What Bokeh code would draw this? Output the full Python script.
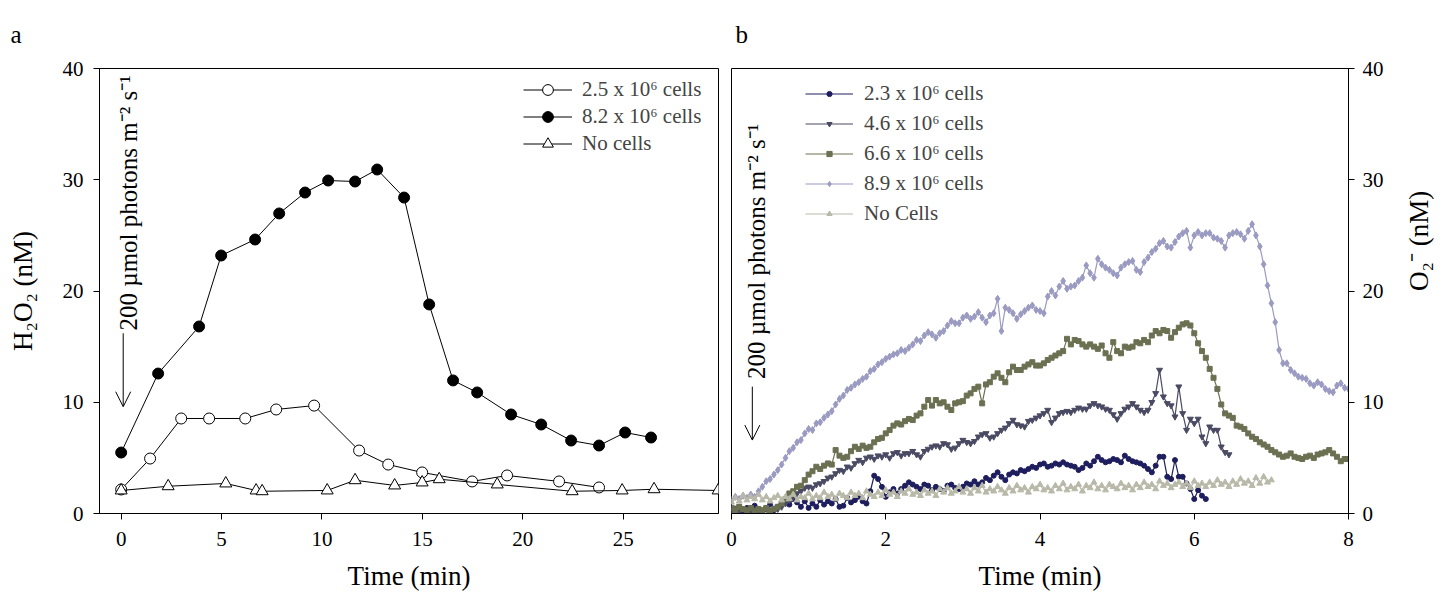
import math
from bokeh.plotting import figure
from bokeh.layouts import row
from bokeh.models import Range1d, Legend, LegendItem, Label, Arrow, OpenHead, FixedTicker
from bokeh.embed import file_html
from bokeh.resources import INLINE

FONT = "Liberation Serif"

# ---------------- Panel a data (H2O2) ----------------
a_open_t = [0, 1.44, 2.99, 4.38, 6.18, 7.72, 9.61, 11.85, 13.3, 14.99, 17.48, 19.22, 21.81, 23.8]
a_open_v = [2.16, 4.94, 8.54, 8.54, 8.54, 9.35, 9.7, 5.66, 4.4, 3.69, 2.88, 3.42, 2.88, 2.34]

a_fill_t = [0, 1.84, 3.88, 4.98, 6.67, 7.87, 9.16, 10.31, 11.65, 12.75, 14.09, 15.34, 16.53,
            17.73, 19.42, 20.92, 22.41, 23.8, 25.1, 26.39]
a_fill_v = [5.48, 12.58, 16.81, 23.19, 24.63, 26.97, 28.85, 29.93, 29.84, 30.92, 28.4, 18.79, 11.96,
            10.88, 8.9, 8.0, 6.56, 6.11, 7.28, 6.83]

a_none_t = [0, 2.34, 5.21, 6.72, 7.02, 10.26, 11.65, 13.62, 14.99, 15.84, 18.73, 22.46, 24.95, 26.54, 29.73]
a_none_v = [2.07, 2.45, 2.70, 2.07, 2.0, 2.07, 2.99, 2.52, 2.79, 3.08, 2.61, 2.0, 2.07, 2.18, 2.07]

a_labels = ["2.5 x 10\u2076 cells", "8.2 x 10\u2076 cells", "No cells"]

# ---------------- Panel b data (O2-) sampled every DT min ----------------
DT = 0.05
b_23 = [0.4, 0.3, 0.6, 0.2, 0.5, 0.3, 0.7, 0.4, 0.2, 0.5, 0.8, 0.3, 0.6, 0.9, 1.2, 0.8, 1.3, 1.0, 0.6, 1.1,
        0.5, 0.9, 0.6, 1.2, 0.8, 1.1, 0.9, 1.3, 0.6, 0.7, 1.4, 1.0, 1.2, 1.5, 1.1, 0.9, 2.0, 3.4, 3.1, 2.4,
        1.5, 1.9, 2.2, 1.8, 2.2, 2.5, 2.8, 2.6, 2.4, 2.2, 2.6, 2.5, 2.1, 2.4, 2.2, 2.0, 2.5, 2.6, 2.3, 2.2,
        2.4, 2.7, 2.6, 2.9, 2.6, 2.8, 3.2, 3.0, 3.4, 3.7, 3.3, 3.0, 3.5, 3.7, 3.6, 3.9, 3.8, 4.0, 4.2, 4.1,
        4.4, 4.5, 4.2, 4.3, 4.5, 4.4, 4.6, 4.4, 4.3, 4.2, 3.9, 4.1, 4.5, 4.3, 4.7, 5.1, 4.8, 4.6, 4.7, 4.9,
        4.8, 4.6, 5.2, 4.9, 4.7, 4.6, 4.5, 4.3, 4.0, 3.7, 4.3, 5.1, 5.1, 3.3, 3.1, 4.8, 3.3, 3.3, 2.7, 2.2,
        1.3, 2.1, 1.6, 1.3]
b_46 = [0.3, 0.5, 0.2, 0.4, 0.3, 0.2, 0.4, 0.3, 0.2, 0.4, 0.3, 0.5, 0.4, 0.6, 0.9, 1.2, 1.5, 1.8, 2.0, 2.3,
        2.4, 2.3, 2.6, 2.7, 2.9, 3.2, 3.3, 3.6, 3.9, 3.8, 4.2, 4.1, 4.5, 4.8, 4.6, 5.0, 5.1, 4.9, 5.2, 5.1,
        5.3, 5.0, 5.4, 5.5, 5.2, 5.4, 5.4, 5.6, 5.3, 5.1, 5.6, 5.8, 6.0, 6.1, 6.0, 6.3, 6.2, 5.8, 5.9, 6.3,
        6.6, 6.4, 6.3, 6.5, 6.9, 7.1, 7.2, 6.8, 6.9, 7.2, 7.5, 7.7, 8.1, 8.4, 8.0, 7.9, 7.8, 8.3, 8.4, 8.6,
        8.8, 9.0, 9.3, 8.2, 8.6, 9.0, 9.1, 9.2, 9.1, 9.3, 9.5, 9.4, 9.4, 9.7, 9.9, 9.7, 9.6, 9.4, 9.3, 8.9,
        8.5, 9.0, 9.4, 9.6, 9.9, 9.6, 9.3, 9.1, 9.3, 10.0, 10.8, 12.9, 10.5, 9.9, 9.7, 8.7, 11.4, 9.0, 7.5, 8.5,
        8.1, 8.5, 6.9, 6.3, 7.8, 7.5, 7.5, 6.0, 5.5, 5.3]
b_66 = [0.5, 0.3, 0.6, 0.4, 0.3, 0.5, 0.2, 0.4, 0.3, 0.5, 0.2, 0.4, 0.6, 0.9, 1.3, 1.8, 2.0, 2.4, 2.5, 3.0,
        3.5, 3.8, 4.2, 4.0, 4.3, 4.5, 4.4, 5.7, 5.2, 5.0, 5.1, 5.6, 6.0, 5.8, 6.1, 5.9, 6.0, 6.4, 6.7, 6.8,
        7.2, 7.5, 7.9, 8.1, 8.0, 8.3, 8.5, 8.4, 8.8, 9.0, 9.6, 10.2, 9.7, 10.2, 9.9, 10.0, 9.6, 9.3, 9.9, 10.0,
        10.1, 10.6, 10.8, 11.2, 11.4, 9.9, 11.6, 11.8, 12.3, 12.6, 12.2, 11.8, 12.7, 13.2, 12.9, 12.9, 13.2, 13.4, 13.6, 13.3,
        13.3, 13.5, 13.8, 14.0, 14.2, 14.4, 14.6, 15.7, 15.2, 15.6, 15.5, 15.2, 15.0, 15.2, 15.0, 14.8, 15.1, 14.4, 14.0, 15.4,
        14.6, 14.4, 15.0, 14.9, 15.0, 15.4, 15.3, 15.6, 15.4, 16.0, 16.4, 16.2, 16.5, 16.4, 15.8, 16.3, 16.7, 17.0, 17.1, 16.9,
        16.2, 15.3, 14.6, 14.0, 13.0, 12.2, 11.2, 9.8, 9.0, 8.8, 8.6, 7.9, 7.8, 7.6, 7.2, 6.9, 6.7, 6.4, 6.2, 6.0,
        5.7, 5.5, 5.3, 5.1, 5.2, 5.4, 5.1, 5.0, 4.9, 5.1, 5.2, 5.0, 5.3, 5.4, 5.5, 5.7, 5.4, 5.1, 4.7, 4.9,
        4.9]
b_89 = [1.2, 1.5, 1.3, 1.6, 1.4, 1.7, 1.5, 2.0, 2.4, 2.9, 3.1, 3.5, 3.9, 4.4, 5.0, 5.6, 5.9, 6.4, 6.6, 7.2,
        7.6, 7.5, 8.1, 8.2, 8.6, 8.9, 9.2, 9.8, 10.3, 10.6, 11.1, 11.3, 11.6, 11.8, 12.1, 12.3, 12.8, 13.0, 13.4, 13.6,
        13.9, 14.1, 14.3, 14.4, 14.7, 14.6, 14.9, 15.2, 15.6, 15.5, 16.0, 16.3, 16.1, 15.8, 16.2, 16.4, 16.9, 17.3, 17.1, 17.1,
        17.6, 17.8, 17.5, 17.7, 18.1, 17.6, 17.2, 17.8, 18.0, 19.3, 16.4, 18.5, 18.3, 18.0, 17.5, 17.9, 18.2, 18.5, 18.7, 18.3,
        18.2, 18.0, 19.5, 20.0, 19.6, 20.4, 20.9, 20.2, 20.4, 20.5, 20.9, 21.2, 22.3, 21.6, 21.2, 22.9, 22.4, 22.1, 21.9, 21.6,
        21.4, 22.1, 22.4, 22.6, 22.7, 21.9, 21.7, 22.6, 23.0, 23.5, 23.8, 24.3, 24.5, 24.0, 23.9, 24.4, 24.9, 25.2, 25.4, 23.9,
        25.0, 25.3, 25.0, 25.2, 25.2, 24.8, 24.7, 24.5, 23.9, 25.0, 25.2, 25.3, 25.1, 24.7, 25.4, 26.0, 25.0, 24.0, 22.4, 20.5,
        18.9, 17.2, 14.7, 13.5, 13.5, 12.9, 12.6, 12.3, 12.2, 12.1, 11.7, 11.5, 11.8, 11.6, 11.2, 11.0, 10.9, 11.5, 11.7, 11.3,
        11.2]
b_none = [1.0, 1.4, 1.1, 1.6, 1.2, 1.5, 1.3, 1.7, 1.2, 1.5, 1.1, 1.4, 1.6, 1.2, 1.5, 1.3, 1.7, 1.2, 1.5, 1.4,
          1.8, 1.3, 1.6, 1.4, 1.9, 1.5, 1.7, 1.3, 1.8, 1.6, 1.4, 1.9, 1.6, 1.8, 1.4, 2.0, 1.7, 1.5, 1.9, 1.6,
          2.1, 1.7, 1.9, 1.5, 2.0, 1.8, 2.2, 1.7, 1.9, 1.6, 2.1, 1.8, 2.0, 1.6, 2.2, 1.9, 2.3, 1.8, 2.0, 2.4,
          1.9, 2.2, 1.8, 2.3, 2.0, 2.5, 1.9, 2.2, 2.0, 2.4, 2.1, 1.8, 2.3, 2.0, 2.5, 2.1, 2.3, 1.9, 2.4, 2.2,
          2.6, 2.1, 2.3, 2.0, 2.5, 2.2, 2.7, 2.1, 2.4, 2.2, 2.6, 2.0, 2.5, 2.3, 2.8, 2.2, 2.5, 2.1, 2.6, 2.4,
          2.2, 2.7, 2.3, 2.5, 2.1, 2.6, 2.3, 2.8, 2.4, 2.6, 2.2, 2.9, 2.5, 2.7, 2.3, 2.6, 2.8, 2.4, 2.7, 2.3,
          2.9, 2.5, 2.7, 2.4, 2.8, 2.5, 3.0, 2.6, 2.8, 2.4, 2.9, 2.6, 3.1, 2.7, 2.9, 2.5, 3.2, 2.7, 3.3, 2.8,
          3.0]
b_labels = ["2.3 x 10\u2076 cells", "4.6 x 10\u2076 cells", "6.6 x 10\u2076 cells", "8.9 x 10\u2076 cells", "No Cells"]
b_colors = ["#1e1e5e", "#4a4a64", "#6c7052", "#9a9ac2", "#b9b9a9"]

ANNOT = "200 \u00b5mol photons m\u207b\u00b2 s\u207b\u00b9"


def times(vals):
    return [round(i * DT, 3) for i in range(len(vals))]


def style_axes(p):
    for ax in list(p.xaxis) + list(p.yaxis):
        ax.major_tick_out = 6
        ax.major_tick_in = 0
        ax.minor_tick_out = 0
        ax.minor_tick_in = 0
        ax.axis_line_color = "black"
        ax.major_tick_line_color = "black"
        ax.major_label_text_font = FONT
        ax.major_label_text_font_size = "21px"
        ax.major_label_text_color = "black"
        ax.axis_label_text_font = FONT
        ax.axis_label_text_font_size = "27px"
        ax.axis_label_text_font_style = "normal"
        ax.axis_label_text_color = "black"
    p.xgrid.visible = False
    p.ygrid.visible = False
    p.outline_line_color = "black"
    p.outline_line_width = 1
    p.background_fill_color = "white"
    p.border_fill_color = "white"


def style_title(p, offset):
    p.title.text_font = FONT
    p.title.text_font_size = "25px"
    p.title.text_font_style = "normal"
    p.title.text_color = "black"
    p.title.align = "left"
    p.title.offset = offset
    p.title.standoff = 37
    p.title.vertical_align = "top"


# ---------------- Figure a ----------------
p1 = figure(width=725, height=605, x_range=Range1d(-1.08, 29.75), y_range=Range1d(0, 40),
            output_backend="svg", toolbar_location=None, title="a",
            min_border_left=99, min_border_right=7, min_border_top=68, min_border_bottom=92)
p1.xaxis.ticker = FixedTicker(ticks=[0, 5, 10, 15, 20, 25])
p1.yaxis.ticker = FixedTicker(ticks=[0, 10, 20, 30, 40])
p1.xaxis.axis_label = "Time (min)"
p1.yaxis.axis_label = "H\u2082O\u2082 (nM)"
style_axes(p1)
style_title(p1, -89)
p1.xaxis.major_label_standoff = 12
p1.xaxis.axis_label_standoff = 12
p1.yaxis.major_label_standoff = 10
p1.yaxis.axis_label_standoff = 22

items_a = []
l = p1.line(a_open_t, a_open_v, line_color="black", line_width=1)
s = p1.scatter(a_open_t, a_open_v, marker="circle", size=11, fill_color="white", line_color="black", line_width=1)
items_a.append(LegendItem(label=a_labels[0], renderers=[l, s]))
l = p1.line(a_fill_t, a_fill_v, line_color="black", line_width=1)
s = p1.scatter(a_fill_t, a_fill_v, marker="circle", size=11, fill_color="black", line_color="black", line_width=1)
items_a.append(LegendItem(label=a_labels[1], renderers=[l, s]))
l = p1.line(a_none_t, a_none_v, line_color="black", line_width=1)
s = p1.scatter(a_none_t, a_none_v, marker="triangle", size=12, fill_color="white", line_color="black", line_width=1)
items_a.append(LegendItem(label=a_labels[2], renderers=[l, s]))

leg_a = Legend(items=items_a, location=(419, 351), orientation="vertical",
               glyph_width=49, glyph_height=27, label_height=27, label_standoff=10, spacing=0,
               padding=5, margin=0, label_text_font=FONT, label_text_font_size="21px",
               background_fill_alpha=0, border_line_alpha=0)
p1.add_layout(leg_a, "center")

p1.add_layout(Arrow(end=OpenHead(size=15, line_width=1, line_color="black"),
                    x_start=0.1, y_start=16.2, x_end=0.1, y_end=9.6,
                    line_color="black", line_width=1))
p1.add_layout(Label(x=0.35, y=16.45, text=ANNOT,
                    angle=math.pi / 2, text_baseline="alphabetic", text_align="left",
                    text_font=FONT, text_font_size="25px", text_color="black"))

# ---------------- Figure b ----------------
p2 = figure(width=729, height=605, x_range=Range1d(0, 8), y_range=Range1d(0, 40),
            output_backend="svg", toolbar_location=None, y_axis_location="right", title="b",
            min_border_left=6, min_border_right=106, min_border_top=68, min_border_bottom=92)
p2.xaxis.ticker = FixedTicker(ticks=[0, 2, 4, 6, 8])
p2.yaxis.ticker = FixedTicker(ticks=[0, 10, 20, 30, 40])
p2.xaxis.axis_label = "Time (min)"
p2.yaxis.axis_label = "O\u2082\u207b (nM)"
style_axes(p2)
style_title(p2, 4)
p2.xaxis.major_label_standoff = 12
p2.xaxis.axis_label_standoff = 12
p2.yaxis.major_label_standoff = 8
p2.yaxis.axis_label_standoff = 32
try:
    p2.yaxis.axis_label_orientation = math.pi / 2
except Exception:
    pass

b_series = [b_23, b_46, b_66, b_89, b_none]
b_markers = ["circle", "inverted_triangle", "square", "diamond", "triangle"]
b_sizes = [5, 6, 5, 7, 6]
items_b = []
for vals, lab, col, mk, sz in zip(b_series, b_labels, b_colors, b_markers, b_sizes):
    tt = times(vals)
    l = p2.line(tt, vals, line_color=col, line_width=1.2)
    s = p2.scatter(tt, vals, marker=mk, size=sz, fill_color=col, line_color=col)
    items_b.append(LegendItem(label=lab, renderers=[l, s]))

leg_b = Legend(items=items_b, location=(69, 280), orientation="vertical",
               glyph_width=48, glyph_height=13, label_height=30, label_standoff=11, spacing=0,
               padding=5, margin=0, label_text_font=FONT, label_text_font_size="21px",
               background_fill_alpha=0, border_line_alpha=0)
p2.add_layout(leg_b, "center")

p2.add_layout(Arrow(end=OpenHead(size=15, line_width=1, line_color="black"),
                    x_start=0.27, y_start=11.4, x_end=0.27, y_end=6.6,
                    line_color="black", line_width=1))
p2.add_layout(Label(x=0.33, y=12.1, text=ANNOT,
                    angle=math.pi / 2, text_baseline="alphabetic", text_align="left",
                    text_font=FONT, text_font_size="25px", text_color="black"))

layout = row(p1, p2)
open("out.html", "w").write(file_html(layout, INLINE))
